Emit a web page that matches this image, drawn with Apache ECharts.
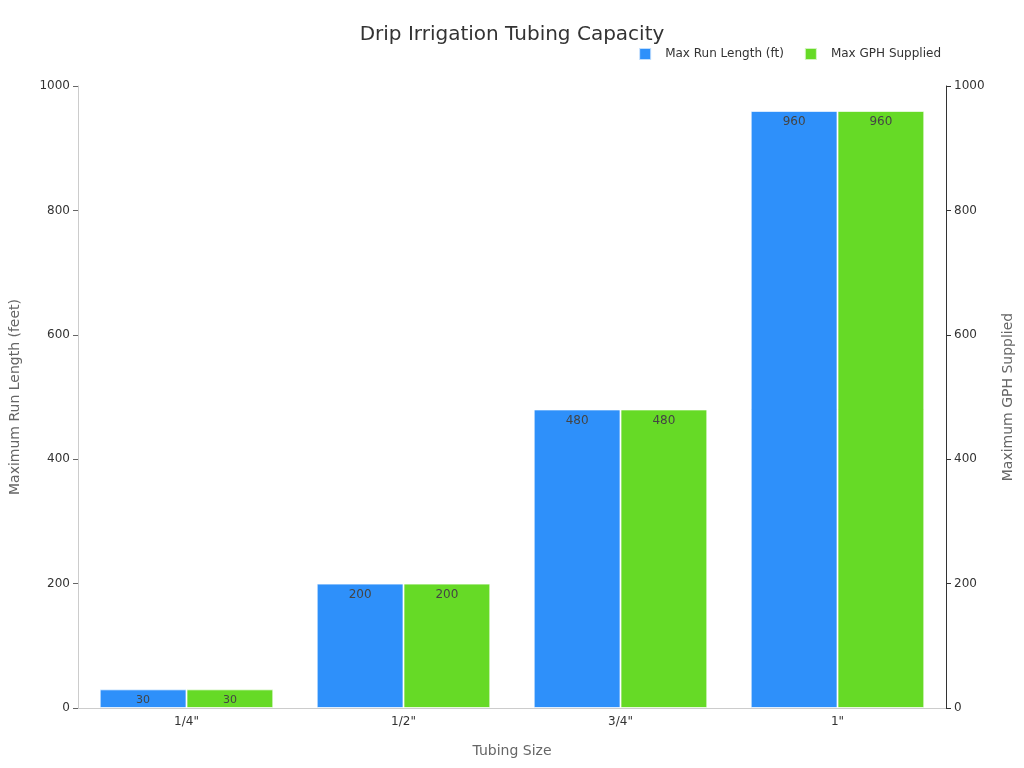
<!DOCTYPE html>
<html>
<head>
<meta charset="utf-8">
<script src="https://cdn.jsdelivr.net/npm/echarts@6/dist/echarts.min.js"></script>
<style>
  html, body { margin: 0; padding: 0; background: #fff; }
  #main { width: 1024px; height: 768px; }
</style>
</head>
<body>
<div id="main"></div>
<script>
  // 数据
  const sizes      = ['1/4"', '1/2"', '3/4"', '1"'];
  const runLength  = [30, 200, 480, 960];
  const gphSupply  = [30, 200, 480, 960];
  const yTicks     = { min: 0, max: 1000, interval: 200 };

  const font = 'DejaVu Sans';

  // 小柱子标签字号小一点
  const withLabel = arr => arr.map(v => ({
    value: v,
    label: { fontSize: v < 100 ? 11 : 12 }
  }));

  const chart = echarts.init(document.getElementById('main'));
  chart.setOption({
    textStyle: { fontFamily: font },
    title: {
      text: 'Drip Irrigation Tubing Capacity',
      left: 'center', top: 20,
      textStyle: { fontSize: 20, fontWeight: 'normal', color: '#333', fontFamily: font }
    },
    legend: {
      right: 78, top: 42,
      itemWidth: 12, itemHeight: 12, itemGap: 20,
      icon: 'rect',
      textStyle: { fontSize: 12, color: '#333', padding: [0, 0, 0, 9] },
      data: ['Max Run Length (ft)', 'Max GPH Supplied']
    },
    grid: { left: 76, right: 78, top: 86, bottom: 60 },
    xAxis: {
      type: 'category',
      data: sizes,
      name: 'Tubing Size', nameLocation: 'middle', nameGap: 36,
      nameTextStyle: { fontSize: 14, color: '#666' },
      axisLine: { lineStyle: { color: '#ccc' } },
      axisTick: { alignWithLabel: true, lineStyle: { color: '#666' } },
      axisLabel: { color: '#333', fontSize: 12 }
    },
    yAxis: [{
      type: 'value', ...yTicks,
      name: 'Maximum Run Length (feet)', nameLocation: 'middle', nameGap: 56,
      nameTextStyle: { fontSize: 14, color: '#666' },
      axisLine: { show: true, lineStyle: { color: '#ccc' } },
      axisTick: { show: true, lineStyle: { color: '#666' } },
      axisLabel: { color: '#333', fontSize: 12, formatter: v => String(v) },
      splitLine: { show: false }
    }, {
      type: 'value', ...yTicks,
      name: 'Maximum GPH Supplied', nameLocation: 'middle', nameGap: 55,
      nameTextStyle: { fontSize: 14, color: '#666' },
      axisLine: { show: true, lineStyle: { color: '#333' } },
      axisTick: { show: true, lineStyle: { color: '#333' } },
      axisLabel: { color: '#333', fontSize: 12, formatter: v => String(v) },
      splitLine: { show: false }
    }],
    series: [{
      name: 'Max Run Length (ft)',
      type: 'bar',
      yAxisIndex: 0,
      data: withLabel(runLength),
      barWidth: '40%',
      barGap: '0%',
      itemStyle: { color: '#2E90FA', borderColor: 'rgba(255,255,255,0.7)', borderWidth: 1 },
      label: { show: true, position: 'insideTop', color: '#444', fontSize: 12 }
    }, {
      name: 'Max GPH Supplied',
      type: 'bar',
      yAxisIndex: 1,
      data: withLabel(gphSupply),
      barWidth: '40%',
      barGap: '0%',
      itemStyle: { color: '#66DA26', borderColor: 'rgba(255,255,255,0.7)', borderWidth: 1 },
      label: { show: true, position: 'insideTop', color: '#444', fontSize: 12 }
    }]
  });
</script>
</body>
</html>
